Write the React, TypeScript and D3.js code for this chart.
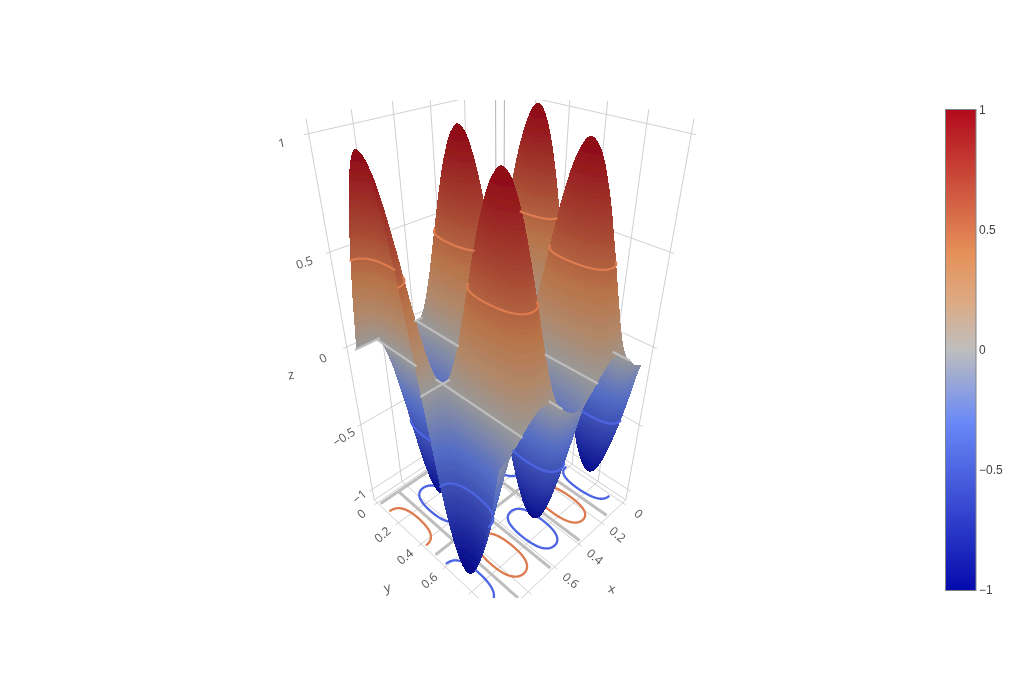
import React, { useEffect, useRef } from 'react';
import * as d3 from 'd3';

// surface heights, one row per x value, one column per y value
const xValues = d3.range(41).map(i => i / 40);
const yValues = d3.range(21).map(j => j / 20);
const zRows = [
  [0,.305,.581,.801,.946,1,.958,.826,.614,.345,.042,-.266,-.546,-.776,-.931,-.998,-.969,-.849,-.647,-.385,-.084],
  [0,.29,.553,.762,.9,.951,.911,.786,.584,.328,.04,-.253,-.519,-.738,-.885,-.949,-.922,-.807,-.615,-.366,-.08],
  [0,.247,.47,.648,.765,.809,.775,.668,.497,.279,.034,-.215,-.442,-.628,-.753,-.807,-.784,-.687,-.523,-.311,-.068],
  [0,.179,.342,.471,.556,.588,.563,.486,.361,.203,.025,-.156,-.321,-.456,-.547,-.587,-.57,-.499,-.38,-.226,-.049],
  [0,.094,.18,.248,.292,.309,.296,.255,.19,.107,.013,-.082,-.169,-.24,-.288,-.308,-.299,-.262,-.2,-.119,-.026],
  [0,0,0,0,0,0,0,0,0,0,0,0,0,0,0,0,0,0,0,0,0],
  [0,-.094,-.18,-.248,-.292,-.309,-.296,-.255,-.19,-.107,-.013,.082,.169,.24,.288,.308,.299,.262,.2,.119,.026],
  [0,-.179,-.342,-.471,-.556,-.588,-.563,-.486,-.361,-.203,-.025,.156,.321,.456,.547,.587,.57,.499,.38,.226,.049],
  [0,-.247,-.47,-.648,-.765,-.809,-.775,-.668,-.497,-.279,-.034,.215,.442,.628,.753,.807,.784,.687,.523,.311,.068],
  [0,-.29,-.553,-.762,-.9,-.951,-.911,-.786,-.584,-.328,-.04,.253,.519,.738,.885,.949,.922,.807,.615,.366,.08],
  [0,-.305,-.581,-.801,-.946,-1,-.958,-.826,-.614,-.345,-.042,.266,.546,.776,.931,.998,.969,.849,.647,.385,.084],
  [0,-.29,-.553,-.762,-.9,-.951,-.911,-.786,-.584,-.328,-.04,.253,.519,.738,.885,.949,.922,.807,.615,.366,.08],
  [0,-.247,-.47,-.648,-.765,-.809,-.775,-.668,-.497,-.279,-.034,.215,.442,.628,.753,.807,.784,.687,.523,.311,.068],
  [0,-.179,-.342,-.471,-.556,-.588,-.563,-.486,-.361,-.203,-.025,.156,.321,.456,.547,.587,.57,.499,.38,.226,.049],
  [0,-.094,-.18,-.248,-.292,-.309,-.296,-.255,-.19,-.107,-.013,.082,.169,.24,.288,.308,.299,.262,.2,.119,.026],
  [0,0,0,0,0,0,0,0,0,0,0,0,0,0,0,0,0,0,0,0,0],
  [0,.094,.18,.248,.292,.309,.296,.255,.19,.107,.013,-.082,-.169,-.24,-.288,-.308,-.299,-.262,-.2,-.119,-.026],
  [0,.179,.342,.471,.556,.588,.563,.486,.361,.203,.025,-.156,-.321,-.456,-.547,-.587,-.57,-.499,-.38,-.226,-.049],
  [0,.247,.47,.648,.765,.809,.775,.668,.497,.279,.034,-.215,-.442,-.628,-.753,-.807,-.784,-.687,-.523,-.311,-.068],
  [0,.29,.553,.762,.9,.951,.911,.786,.584,.328,.04,-.253,-.519,-.738,-.885,-.949,-.922,-.807,-.615,-.366,-.08],
  [0,.305,.581,.801,.946,1,.958,.826,.614,.345,.042,-.266,-.546,-.776,-.931,-.998,-.969,-.849,-.647,-.385,-.084],
  [0,.29,.553,.762,.9,.951,.911,.786,.584,.328,.04,-.253,-.519,-.738,-.885,-.949,-.922,-.807,-.615,-.366,-.08],
  [0,.247,.47,.648,.765,.809,.775,.668,.497,.279,.034,-.215,-.442,-.628,-.753,-.807,-.784,-.687,-.523,-.311,-.068],
  [0,.179,.342,.471,.556,.588,.563,.486,.361,.203,.025,-.156,-.321,-.456,-.547,-.587,-.57,-.499,-.38,-.226,-.049],
  [0,.094,.18,.248,.292,.309,.296,.255,.19,.107,.013,-.082,-.169,-.24,-.288,-.308,-.299,-.262,-.2,-.119,-.026],
  [0,0,0,0,0,0,0,0,0,0,0,0,0,0,0,0,0,0,0,0,0],
  [0,-.094,-.18,-.248,-.292,-.309,-.296,-.255,-.19,-.107,-.013,.082,.169,.24,.288,.308,.299,.262,.2,.119,.026],
  [0,-.179,-.342,-.471,-.556,-.588,-.563,-.486,-.361,-.203,-.025,.156,.321,.456,.547,.587,.57,.499,.38,.226,.049],
  [0,-.247,-.47,-.648,-.765,-.809,-.775,-.668,-.497,-.279,-.034,.215,.442,.628,.753,.807,.784,.687,.523,.311,.068],
  [0,-.29,-.553,-.762,-.9,-.951,-.911,-.786,-.584,-.328,-.04,.253,.519,.738,.885,.949,.922,.807,.615,.366,.08],
  [0,-.305,-.581,-.801,-.946,-1,-.958,-.826,-.614,-.345,-.042,.266,.546,.776,.931,.998,.969,.849,.647,.385,.084],
  [0,-.29,-.553,-.762,-.9,-.951,-.911,-.786,-.584,-.328,-.04,.253,.519,.738,.885,.949,.922,.807,.615,.366,.08],
  [0,-.247,-.47,-.648,-.765,-.809,-.775,-.668,-.497,-.279,-.034,.215,.442,.628,.753,.807,.784,.687,.523,.311,.068],
  [0,-.179,-.342,-.471,-.556,-.588,-.563,-.486,-.361,-.203,-.025,.156,.321,.456,.547,.587,.57,.499,.38,.226,.049],
  [0,-.094,-.18,-.248,-.292,-.309,-.296,-.255,-.19,-.107,-.013,.082,.169,.24,.288,.308,.299,.262,.2,.119,.026],
  [0,0,0,0,0,0,0,0,0,0,0,0,0,0,0,0,0,0,0,0,0],
  [0,.094,.18,.248,.292,.309,.296,.255,.19,.107,.013,-.082,-.169,-.24,-.288,-.308,-.299,-.262,-.2,-.119,-.026],
  [0,.179,.342,.471,.556,.588,.563,.486,.361,.203,.025,-.156,-.321,-.456,-.547,-.587,-.57,-.499,-.38,-.226,-.049],
  [0,.247,.47,.648,.765,.809,.775,.668,.497,.279,.034,-.215,-.442,-.628,-.753,-.807,-.784,-.687,-.523,-.311,-.068],
  [0,.29,.553,.762,.9,.951,.911,.786,.584,.328,.04,-.253,-.519,-.738,-.885,-.949,-.922,-.807,-.615,-.366,-.08],
  [0,.305,.581,.801,.946,1,.958,.826,.614,.345,.042,-.266,-.546,-.776,-.931,-.998,-.969,-.849,-.647,-.385,-.084],
];

const xTicks = [0, 0.2, 0.4, 0.6, 0.8, 1];
const yTicks = [0, 0.2, 0.4, 0.6, 0.8, 1];
const zTicks = [-1, -0.5, 0, 0.5, 1];
const colorbarTicks = [-1, -0.5, 0, 0.5, 1];
const contourLevels = [-0.5, 0, 0.5];

const colorStops = [-1, -0.3, 0, 0.2, 0.4, 1];
const colorValues = ['rgb(5,10,172)', 'rgb(106,137,247)', 'rgb(190,190,190)', 'rgb(220,170,132)', 'rgb(230,145,90)', 'rgb(178,10,28)'];

const GRID = '#cfcfcf';
const GRID_DARK = '#b4b4b4';
const TEXT = '#555';
const AMBIENT = 0.8;
const BAND = 0.02;

// box limits in data units
const X_MIN = -0.03, X_MAX = 1, Y_MIN = -0.03, Y_MAX = 1, Z_MIN = -1.09, Z_MAX = 1.055;
// the surface sits a little inside the ticks
const SPAN_0 = 0.018, SPAN_1 = 0.982;

// camera, same as the default plotly scene eye
const EYE = [1.25, 1.25, 1.25];
const FOCAL = 603;
const CX = 500, CY = 350;
const SIDE = 0.775;

const scaleX = d3.scaleLinear().domain([X_MIN, X_MAX]).range([-SIDE / 2, SIDE / 2]);
const scaleY = d3.scaleLinear().domain([Y_MIN, Y_MAX]).range([-SIDE / 2, SIDE / 2]);
const scaleZ = d3.scaleLinear().domain([Z_MIN, Z_MAX]).range([-0.8, 0.8]);
const color = d3.scaleLinear<string>().domain(colorStops).range(colorValues);

const S3 = Math.sqrt(3), S2 = Math.sqrt(2), S6 = Math.sqrt(6);
const FWD = [-1 / S3, -1 / S3, -1 / S3];
const RIGHT = [-1 / S2, 1 / S2, 0];
const UP = [-1 / S6, -1 / S6, 2 / S6];
const dot = (a: number[], b: number[]) => a[0] * b[0] + a[1] * b[1] + a[2] * b[2];

function project(x: number, y: number, z: number): [number, number] {
  const rel = [scaleX(x) - EYE[0], scaleY(y) - EYE[1], scaleZ(z) - EYE[2]];
  const depth = dot(rel, FWD);
  return [CX + (FOCAL * dot(rel, RIGHT)) / depth, CY - (FOCAL * dot(rel, UP)) / depth];
}

function catmull(a: number, b: number, c: number, d: number, t: number) {
  return 0.5 * (2 * b + (c - a) * t + (2 * a - 5 * b + 4 * c - d) * t * t + (3 * b - a - 3 * c + d) * t * t * t);
}

// smooth the drawn mesh between the typed grid values
function sampleGrid(fx: number, fy: number) {
  const i = Math.min(Math.floor(fx), xValues.length - 2);
  const j = Math.min(Math.floor(fy), yValues.length - 2);
  const row = (r: number) => {
    const v = zRows[Math.max(0, Math.min(xValues.length - 1, r))];
    const g = (c: number) => v[Math.max(0, Math.min(yValues.length - 1, c))];
    return catmull(g(j - 1), g(j), g(j + 1), g(j + 2), fy - j);
  };
  return catmull(row(i - 1), row(i), row(i + 1), row(i + 2), fx - i);
}

// cut a polygon [px, py, z] at a z level
function clipZ(poly: number[][], level: number, above: boolean) {
  const out: number[][] = [];
  for (let k = 0; k < poly.length; k++) {
    const a = poly[k], b = poly[(k + 1) % poly.length];
    const ina = above ? a[2] >= level : a[2] <= level;
    const inb = above ? b[2] >= level : b[2] <= level;
    if (ina) out.push(a);
    if (ina !== inb) {
      const t = (level - a[2]) / (b[2] - a[2]);
      out.push([a[0] + (b[0] - a[0]) * t, a[1] + (b[1] - a[1]) * t, level]);
    }
  }
  return out;
}

const NU = 160, NV = 160, QUAD_STEP = 2;

export default function App() {
  const svgRef = useRef<SVGSVGElement>(null);

  useEffect(() => {
    const svg = d3.select(svgRef.current);
    svg.selectAll('*').remove();

    const defs = svg.append('defs');
    defs.append('clipPath').attr('id', 'scene-clip')
      .append('rect').attr('x', 80).attr('y', 100).attr('width', 860).attr('height', 498);
    const addBlur = (id: string, sd: number) => {
      defs.append('filter').attr('id', id)
        .attr('filterUnits', 'userSpaceOnUse').attr('x', 0).attr('y', 0).attr('width', 1024).attr('height', 680)
        .append('feGaussianBlur').attr('stdDeviation', sd);
    };
    addBlur('soft', 0.35);
    addBlur('soft-surface', 0.7);
    defs.append('filter').attr('id', 'flat')
      .attr('filterUnits', 'userSpaceOnUse').attr('x', 0).attr('y', 0).attr('width', 1024).attr('height', 680)
      .append('feOffset').attr('dx', 0).attr('dy', 0);
    const grad = defs.append('linearGradient').attr('id', 'bar-fill')
      .attr('x1', 0).attr('y1', 1).attr('x2', 0).attr('y2', 0);
    colorStops.forEach((s, i) => {
      grad.append('stop').attr('offset', (s + 1) / 2).attr('stop-color', colorValues[i]);
    });

    const scene = svg.append('g').attr('clip-path', 'url(#scene-clip)').append('g').attr('filter', 'url(#soft)');

    const addLine = (a: number[], b: number[], stroke = GRID) => {
      const p = project(a[0], a[1], a[2]);
      const q = project(b[0], b[1], b[2]);
      scene.append('line').attr('x1', p[0]).attr('y1', p[1]).attr('x2', q[0]).attr('y2', q[1])
        .attr('stroke', stroke).attr('stroke-width', 1);
    };

    // walls and floor
    xTicks.forEach(t => {
      addLine([t, Y_MIN, Z_MIN], [t, Y_MIN, Z_MAX], t === 0 ? GRID_DARK : GRID);
      addLine([t, Y_MIN, Z_MIN], [t, Y_MAX + 0.02, Z_MIN]);
    });
    yTicks.forEach(t => {
      addLine([X_MIN, t, Z_MIN], [X_MIN, t, Z_MAX], t === 0 ? GRID_DARK : GRID);
      addLine([X_MIN, t, Z_MIN], [X_MAX + 0.02, t, Z_MIN]);
    });
    zTicks.forEach(t => {
      addLine([X_MAX + 0.02, Y_MIN, t], [X_MIN, Y_MIN, t]);
      addLine([X_MIN, Y_MIN, t], [X_MIN, Y_MAX + 0.02, t]);
    });
    addLine([X_MIN, Y_MIN, Z_MIN], [X_MAX, Y_MIN, Z_MIN]);
    addLine([X_MIN, Y_MIN, Z_MIN], [X_MIN, Y_MAX, Z_MIN]);

    // fine mesh
    const fine: number[][] = d3.range(NU + 1).map(i =>
      d3.range(NV + 1).map(j => sampleGrid((i / NU) * (xValues.length - 1), (j / NV) * (yValues.length - 1))));
    const spanScale = d3.scaleLinear().domain([0, 1]).range([SPAN_0, SPAN_1]);
    const fx = (i: number) => spanScale(i / NU);
    const fy = (j: number) => spanScale(j / NV);

    const heightAt = (x: number, y: number) => {
      const u = Math.min(NU - 1e-6, Math.max(0, spanScale.invert(x) * NU));
      const v = Math.min(NV - 1e-6, Math.max(0, spanScale.invert(y) * NV));
      const i = Math.floor(u), j = Math.floor(v);
      const a = u - i, b = v - j;
      return (fine[i][j] * (1 - a) + fine[i + 1][j] * a) * (1 - b) + (fine[i][j + 1] * (1 - a) + fine[i + 1][j + 1] * a) * b;
    };

    // walk from the point to the eye, hidden when the ray passes through the sheet
    const visible = (x: number, y: number, z: number) => {
      const start = [scaleX(x), scaleY(y), scaleZ(z)];
      const dir = [EYE[0] - start[0], EYE[1] - start[1], EYE[2] - start[2]];
      let side = 0;
      for (let k = 1; k < 120; k++) {
        const t = k * 0.0035;
        const px = scaleX.invert(start[0] + dir[0] * t);
        const py = scaleY.invert(start[1] + dir[1] * t);
        if (px > SPAN_1 || py > SPAN_1) return true;
        const diff = scaleZ.invert(start[2] + dir[2] * t) - heightAt(px, py);
        if (Math.abs(diff) < 0.012) continue;
        const s = Math.sign(diff);
        if (side === 0) side = s;
        else if (s !== side) return false;
      }
      return true;
    };

    // marching squares on the fine mesh
    const segmentsFor = (level: number) => {
      const out: number[][][] = [];
      for (let i = 0; i < NU; i++) {
        for (let j = 0; j < NV; j++) {
          const c = [[i, j], [i + 1, j], [i + 1, j + 1], [i, j + 1]];
          const pts: number[][] = [];
          for (let k = 0; k < 4; k++) {
            const p = c[k], q = c[(k + 1) % 4];
            const a = fine[p[0]][p[1]], b = fine[q[0]][q[1]];
            if ((a > level) !== (b > level)) {
              const t = (level - a) / (b - a);
              pts.push([fx(p[0] + (q[0] - p[0]) * t), fy(p[1] + (q[1] - p[1]) * t)]);
            }
          }
          if (pts.length >= 2) out.push([pts[0], pts[1]]);
          if (pts.length === 4) out.push([pts[2], pts[3]]);
        }
      }
      return out;
    };

    const contours = contourLevels.map(level => ({
      level,
      segs: level === 0 ? [...segmentsFor(1e-6), ...segmentsFor(-1e-6)] : segmentsFor(level),
    }));

    const line = d3.line();

    // contours projected on the floor
    contours.forEach(({ level, segs }) => {
      const d = segs.map(s => line([project(s[0][0], s[0][1], Z_MIN), project(s[1][0], s[1][1], Z_MIN)])).join('');
      scene.append('path').attr('d', d).attr('fill', 'none')
        .attr('stroke', color(level)).attr('stroke-width', level === 0 ? 3 : 2.3).attr('stroke-linecap', 'round');
    });

    // surface, back to front, each quad cut into thin z bands for a smooth ramp
    const surface = scene.append('g').attr('filter', 'url(#soft-surface)');
    const node = surface.node() as SVGGElement;
    const shaded = d3.scaleQuantize<string>().domain([-1.2, 1.2]).range(
      d3.range(-1.2 + BAND / 2, 1.2, BAND).map(v => {
        const c = d3.rgb(color(v));
        return `rgb(${Math.round(c.r * AMBIENT)},${Math.round(c.g * AMBIENT)},${Math.round(c.b * AMBIENT)})`;
      }));
    for (let i = 0; i < NU; i += QUAD_STEP) {
      for (let j = 0; j < NV; j += QUAD_STEP) {
        const i2 = i + QUAD_STEP, j2 = j + QUAD_STEP;
        const quad = [[i, j], [i2, j], [i2, j2], [i, j2]].map(([a, b]) => {
          const p = project(fx(a), fy(b), fine[a][b]);
          return [p[0], p[1], fine[a][b]];
        });
        const zs = quad.map(q => q[2]);
        const lo = Math.floor((d3.min(zs) as number) / BAND);
        const hi = Math.ceil((d3.max(zs) as number) / BAND);
        for (let b = lo; b < Math.max(hi, lo + 1); b++) {
          let poly = clipZ(quad, b * BAND, true);
          if (poly.length >= 3) poly = clipZ(poly, (b + 1) * BAND, false);
          if (poly.length < 3) continue;
          const el = document.createElementNS('http://www.w3.org/2000/svg', 'path');
          el.setAttribute('d', (line(poly.map(q => [q[0], q[1]] as [number, number])) as string) + 'Z');
          el.setAttribute('fill', shaded((b + 0.5) * BAND));
          el.setAttribute('shape-rendering', 'crispEdges');
          node.appendChild(el);
        }
      }
    }

    // contours on the surface, hidden parts dropped
    contours.forEach(({ level, segs }) => {
      const d = segs
        .map(s => {
          const m = [(s[0][0] + s[1][0]) / 2, (s[0][1] + s[1][1]) / 2];
          if (!visible(m[0], m[1], level)) return '';
          return line([project(s[0][0], s[0][1], level), project(s[1][0], s[1][1], level)]);
        })
        .join('');
      scene.append('path').attr('d', d).attr('fill', 'none')
        .attr('stroke', color(level)).attr('stroke-width', 2.2).attr('stroke-linecap', 'round');
    });

    // axis labels
    const fmt = d3.format('');
    const addText = (pos: number[], label: string, angle: number, size = 12) => {
      scene.append('text')
        .attr('transform', `translate(${pos[0]},${pos[1]}) rotate(${angle})`)
        .attr('text-anchor', 'middle').attr('dominant-baseline', 'central')
        .attr('font-family', '"Open Sans", sans-serif').attr('font-size', size).attr('fill', TEXT)
        .text(label);
    };
    xTicks.forEach(t => addText(project(t, Y_MAX + 0.11, Z_MIN), fmt(t), 40));
    yTicks.forEach(t => addText(project(X_MAX + 0.11, t, Z_MIN), fmt(t), -40));
    const zDx = d3.scaleLinear().domain([-1, -0.5, 0, 1]).range([-13, -17, -24, -27]);
    const zDy = d3.scaleLinear().domain([-1, -0.5, 1]).range([7, 12, 9]);
    const zAngle = d3.scaleLinear().domain([-1, 1]).range([-40, -12]);
    zTicks.forEach(t => {
      const p = project(X_MAX, Y_MIN, t);
      addText([p[0] + zDx(t), p[1] + zDy(t)], fmt(t), zAngle(t));
    });
    addText([612, 588], 'x', 15, 13);
    addText([387, 587], 'y', -15, 13);
    addText([291, 374], 'z', -10, 13);

    // colorbar
    const barY = d3.scaleLinear().domain([-1, 1]).range([590, 110]);
    const bar = svg.append('g').attr('filter', 'url(#flat)');
    bar.append('rect').attr('x', 946).attr('y', 110).attr('width', 30).attr('height', 480).attr('fill', 'url(#bar-fill)');
    bar.append('rect').attr('x', 945.5).attr('y', 109.5).attr('width', 30.5).attr('height', 481)
      .attr('fill', 'none').attr('stroke', '#7f8589').attr('stroke-width', 1);
    bar.selectAll('text').data(colorbarTicks).join('text')
      .attr('x', 979).attr('y', d => barY(d)).attr('dy', '0.35em')
      .attr('font-family', '"Liberation Sans", sans-serif').attr('font-size', 12).attr('fill', '#444')
      .text(d => fmt(d));
  }, []);

  return (
    <svg ref={svgRef} width={1024} height={680} viewBox="0 0 1024 680"
      style={{ position: 'absolute', left: 0, top: 0, display: 'block', background: '#fff' }} />
  );
}
